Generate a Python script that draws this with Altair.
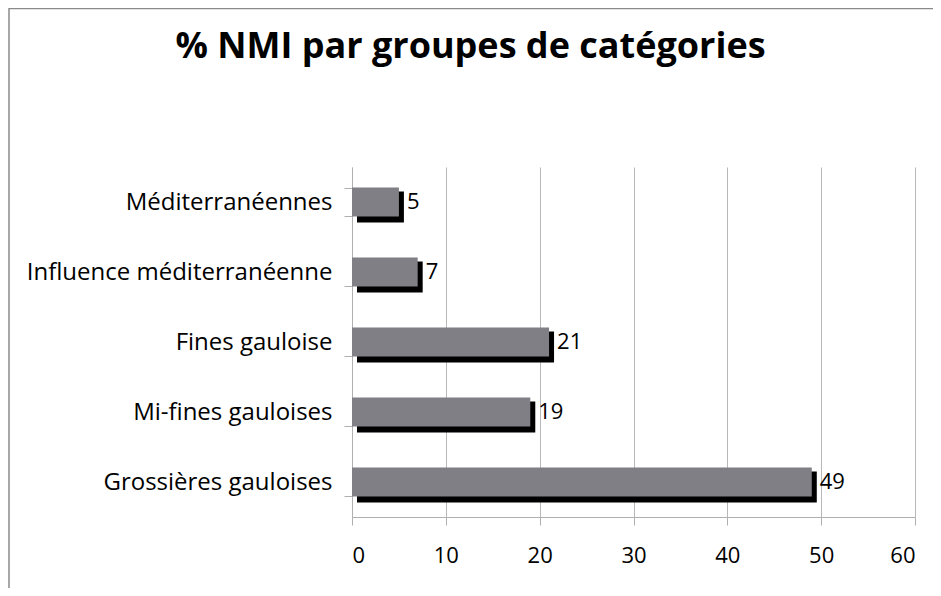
import altair as alt
import pandas as pd

categories = ["Méditerranéennes", "Influence méditerranéenne", "Fines gauloise",
              "Mi-fines gauloises", "Grossières gauloises"]
values = [5, 7, 21, 19, 49]
x_ticks = [0, 10, 20, 30, 40, 50, 60]
title_text = "% NMI par groupes de catégories"

df = pd.DataFrame({"cat": categories, "val": values})

FONT = "Open Sans"
W, H = 563, 350
PL, PT = 344, 159

y_enc = alt.Y("cat:N", sort=categories, title=None,
              scale=alt.Scale(paddingInner=0.586, paddingOuter=0.293),
              axis=alt.Axis(tickBand="extent", grid=False, domainColor="#b0b0b0",
                            tickColor="#b0b0b0", tickSize=8, labelPadding=12,
                            labelFont=FONT, labelFontSize=24, labelColor="#000000",
                            labelLimit=400))
x_enc = alt.X("val:Q", title=None,
              scale=alt.Scale(domain=[0, 60], nice=False),
              axis=alt.Axis(values=x_ticks, grid=True, gridColor="#b8b8b8",
                            domainColor="#b0b0b0", tickColor="#b0b0b0", tickSize=8,
                            labelPadding=20, labelFont=FONT, labelFontSize=22,
                            labelColor="#000000"))

base = alt.Chart(df)

shadow = base.mark_bar(color="#000000", xOffset=5, x2Offset=6, yOffset=5, size=31).encode(
    x=x_enc, y=y_enc)
bars = base.mark_bar(color="#7f7f85", size=29).encode(x=x_enc, y=y_enc)
labels = base.mark_text(align="left", baseline="middle", dx=8, font=FONT,
                        fontSize=22, color="#000000").encode(
    x="val:Q", y=alt.Y("cat:N", sort=categories), text="val:Q")

border = alt.Chart(pd.DataFrame({"a": [0]})).mark_rect(
    fill=None, stroke="#8a8a8a", strokeWidth=1.5).encode(
    x=alt.value(-PL + 1), x2=alt.value(W + 200),
    y=alt.value(-PT + 0.5), y2=alt.value(H + 200))

title = alt.Chart(pd.DataFrame({"t": [title_text]})).mark_text(
    font=FONT, fontSize=36, fontWeight="bold", color="#000000",
    align="center", baseline="alphabetic").encode(
    x=alt.value(W / 2 - 163), y=alt.value(-109), text="t:N")

chart = alt.layer(border, shadow, bars, labels, title).properties(
    width=W, height=H,
    autosize=alt.AutoSizeParams(type="none"),
    padding={"left": PL, "top": PT, "right": 18, "bottom": 71},
).configure_view(stroke=None)

chart.save("out.html", embed_options={"renderer": "svg", "actions": False})
